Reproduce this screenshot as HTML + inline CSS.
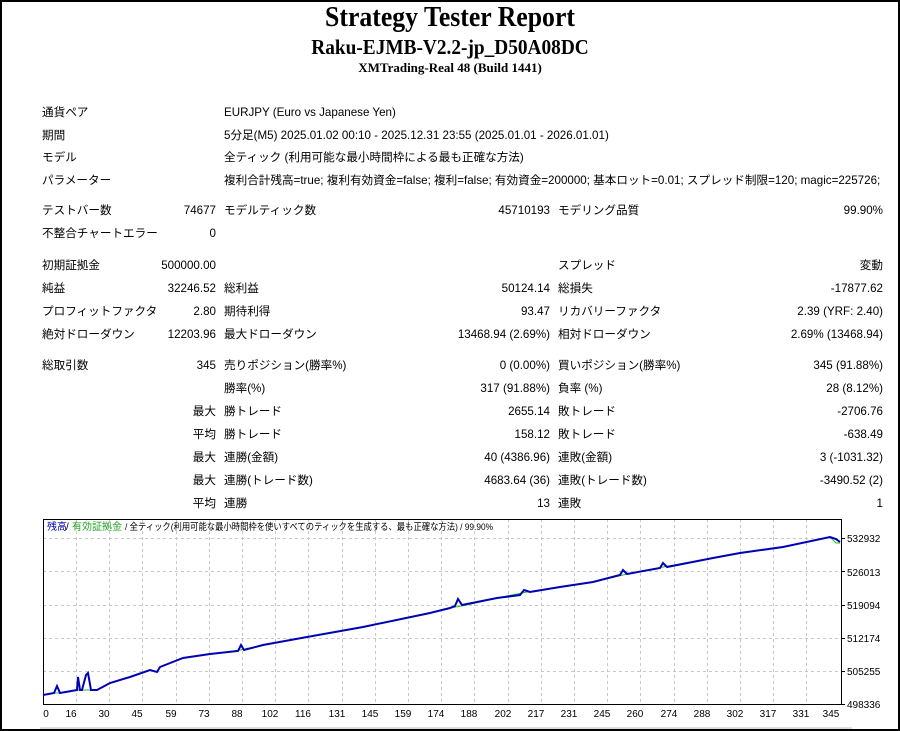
<!DOCTYPE html>
<html><head><meta charset="utf-8"><style>
html,body{margin:0;padding:0;background:#fff}
body{width:900px;height:731px;position:relative;overflow:hidden}
.frame{position:absolute;left:0;top:0;width:896px;height:727px;border:2px solid #000}
.t{position:absolute;font-family:"Liberation Serif",serif;font-weight:bold;text-align:center;left:0;width:900px;white-space:nowrap;color:#000}
.s{position:absolute;font-family:"Liberation Sans","Noto Sans CJK JP",sans-serif;font-size:11.6px;line-height:14px;white-space:nowrap;color:#000}
.r{text-align:right}
</style></head><body>
<div class="frame"></div>
<div class="t" style="top:2px;font-size:28px;line-height:32px;transform:scaleX(0.92)">Strategy Tester Report</div>
<div class="t" style="top:34px;font-size:21px;line-height:26px;transform:scaleX(0.92)">Raku-EJMB-V2.2-jp_D50A08DC</div>
<div class="t" style="top:60px;font-size:13px;line-height:16px">XMTrading-Real 48 (Build 1441)</div>

<div class="s" style="left:42px;top:106px">通貨ペア</div><div class="s" style="left:224px;top:106px">EURJPY (Euro vs Japanese Yen)</div>
<div class="s" style="left:42px;top:129px">期間</div><div class="s" style="left:224px;top:129px">5分足(M5) 2025.01.02 00:10 - 2025.12.31 23:55 (2025.01.01 - 2026.01.01)</div>
<div class="s" style="left:42px;top:151px">モデル</div><div class="s" style="left:224px;top:151px">全ティック (利用可能な最小時間枠による最も正確な方法)</div>
<div class="s" style="left:42px;top:174px">パラメーター</div><div class="s" style="left:224px;top:174px">複利合計残高=true; 複利有効資金=false; 複利=false; 有効資金=200000; 基本ロット=0.01; スプレッド制限=120; magic=225726;</div>

<div class="s" style="left:42px;top:204px">テストバー数</div><div class="s r" style="right:684px;top:204px">74677</div><div class="s" style="left:224px;top:204px">モデルティック数</div><div class="s r" style="right:350px;top:204px">45710193</div><div class="s" style="left:558px;top:204px">モデリング品質</div><div class="s r" style="right:17px;top:204px">99.90%</div>
<div class="s" style="left:42px;top:227px">不整合チャートエラー</div><div class="s r" style="right:684px;top:227px">0</div>

<div class="s" style="left:42px;top:259px">初期証拠金</div><div class="s r" style="right:684px;top:259px">500000.00</div><div class="s" style="left:558px;top:259px">スプレッド</div><div class="s r" style="right:17px;top:259px">変動</div>
<div class="s" style="left:42px;top:282px">純益</div><div class="s r" style="right:684px;top:282px">32246.52</div><div class="s" style="left:224px;top:282px">総利益</div><div class="s r" style="right:350px;top:282px">50124.14</div><div class="s" style="left:558px;top:282px">総損失</div><div class="s r" style="right:17px;top:282px">-17877.62</div>
<div class="s" style="left:42px;top:305px">プロフィットファクタ</div><div class="s r" style="right:684px;top:305px">2.80</div><div class="s" style="left:224px;top:305px">期待利得</div><div class="s r" style="right:350px;top:305px">93.47</div><div class="s" style="left:558px;top:305px">リカバリーファクタ</div><div class="s r" style="right:17px;top:305px">2.39 (YRF: 2.40)</div>
<div class="s" style="left:42px;top:328px">絶対ドローダウン</div><div class="s r" style="right:684px;top:328px">12203.96</div><div class="s" style="left:224px;top:328px">最大ドローダウン</div><div class="s r" style="right:350px;top:328px">13468.94 (2.69%)</div><div class="s" style="left:558px;top:328px">相対ドローダウン</div><div class="s r" style="right:17px;top:328px">2.69% (13468.94)</div>

<div class="s" style="left:42px;top:359px">総取引数</div><div class="s r" style="right:684px;top:359px">345</div><div class="s" style="left:224px;top:359px">売りポジション(勝率%)</div><div class="s r" style="right:350px;top:359px">0 (0.00%)</div><div class="s" style="left:558px;top:359px">買いポジション(勝率%)</div><div class="s r" style="right:17px;top:359px">345 (91.88%)</div>
<div class="s" style="left:224px;top:382px">勝率(%)</div><div class="s r" style="right:350px;top:382px">317 (91.88%)</div><div class="s" style="left:558px;top:382px">負率 (%)</div><div class="s r" style="right:17px;top:382px">28 (8.12%)</div>
<div class="s r" style="right:684px;top:405px">最大</div><div class="s" style="left:224px;top:405px">勝トレード</div><div class="s r" style="right:350px;top:405px">2655.14</div><div class="s" style="left:558px;top:405px">敗トレード</div><div class="s r" style="right:17px;top:405px">-2706.76</div>
<div class="s r" style="right:684px;top:428px">平均</div><div class="s" style="left:224px;top:428px">勝トレード</div><div class="s r" style="right:350px;top:428px">158.12</div><div class="s" style="left:558px;top:428px">敗トレード</div><div class="s r" style="right:17px;top:428px">-638.49</div>
<div class="s r" style="right:684px;top:451px">最大</div><div class="s" style="left:224px;top:451px">連勝(金額)</div><div class="s r" style="right:350px;top:451px">40 (4386.96)</div><div class="s" style="left:558px;top:451px">連敗(金額)</div><div class="s r" style="right:17px;top:451px">3 (-1031.32)</div>
<div class="s r" style="right:684px;top:474px">最大</div><div class="s" style="left:224px;top:474px">連勝(トレード数)</div><div class="s r" style="right:350px;top:474px">4683.64 (36)</div><div class="s" style="left:558px;top:474px">連敗(トレード数)</div><div class="s r" style="right:17px;top:474px">-3490.52 (2)</div>
<div class="s r" style="right:684px;top:497px">平均</div><div class="s" style="left:224px;top:497px">連勝</div><div class="s r" style="right:350px;top:497px">13</div><div class="s" style="left:558px;top:497px">連敗</div><div class="s r" style="right:17px;top:497px">1</div>

<svg style="position:absolute;left:0;top:0" width="900" height="731" font-family="Liberation Sans, Noto Sans CJK JP, sans-serif">
<g stroke="#c8c8c8" stroke-dasharray="3,3" stroke-width="1">
<line x1="43" y1="538.5" x2="841" y2="538.5"/><line x1="43" y1="571.5" x2="841" y2="571.5"/><line x1="43" y1="605.5" x2="841" y2="605.5"/><line x1="43" y1="638.5" x2="841" y2="638.5"/><line x1="43" y1="671.5" x2="841" y2="671.5"/>
<path d="M76.5 519V704M109.5 519V704M142.5 519V704M176.5 519V704M209.5 519V704M242.5 519V704M275.5 519V704M308.5 519V704M342.5 519V704M375.5 519V704M408.5 519V704M441.5 519V704M474.5 519V704M508.5 519V704M541.5 519V704M574.5 519V704M607.5 519V704M640.5 519V704M674.5 519V704M707.5 519V704M740.5 519V704M773.5 519V704M806.5 519V704"/>
</g>
<rect x="43.5" y="519.5" width="798" height="185" fill="none" stroke="#000" stroke-width="1"/>
<g stroke="#000"><path d="M841 538.5h4M841 571.5h4M841 605.5h4M841 638.5h4M841 671.5h4M841 704.5h4"/></g>
<polyline fill="none" stroke="#22c022" stroke-width="1" points="43,695 54,693 60,693 77,690 82,690 93,690 97,690 110,683 130,677 150,670 157,672 160,667 183,658 210,654 240,650 263,645 307,637 363,627 430,613 450,608 467,605 497,598 527,592 560,587 593,582 623,575 663,567 713,558 740,553 783,547 830,537 836,543 840,543"/>
<polyline fill="none" stroke="#0000b4" stroke-width="2" points="43,695 54,693 57,686 60,693 77,690 78,677 80,690 82,690 86,675 88,673 91,690 97,690 110,683 130,677 150,670 157,672 160,667 183,658 210,654 238,651 241,645 244,650 263,645 307,637 363,627 430,613 450,608 455,606 458,599 462,605 467,604 497,598 520,595 524,590 527,591 530,592 560,587 593,582 620,575 623,570 627,574 660,568 663,563 667,567 713,558 740,553 783,547 830,537 836,539 840,542"/>
<text x="47" y="530" font-size="10" fill="#0000b4">残高</text>
<text x="66" y="530" font-size="10" fill="#000">/</text>
<text x="72" y="530" font-size="10" fill="#22a022" textLength="50">有効証拠金</text>
<text x="125" y="530" font-size="9.5" fill="#000" textLength="368" lengthAdjust="spacingAndGlyphs">/ 全ティック(利用可能な最小時間枠を使いすべてのティックを生成する、最も正確な方法) / 99.90%</text>
<g font-size="10" fill="#000">
<text x="847" y="542">532932</text><text x="847" y="576">526013</text><text x="847" y="609">519094</text><text x="847" y="642">512174</text><text x="847" y="675">505255</text><text x="847" y="708">498336</text>
</g>
<g font-size="10" fill="#000" text-anchor="middle">
<text x="46" y="717">0</text><text x="71" y="717">16</text><text x="104" y="717">30</text><text x="137" y="717">45</text><text x="171" y="717">59</text><text x="204" y="717">73</text><text x="237" y="717">88</text><text x="270" y="717">102</text><text x="303" y="717">116</text><text x="337" y="717">131</text><text x="370" y="717">145</text><text x="403" y="717">159</text><text x="436" y="717">174</text><text x="469" y="717">188</text><text x="503" y="717">202</text><text x="536" y="717">217</text><text x="569" y="717">231</text><text x="602" y="717">245</text><text x="635" y="717">260</text><text x="669" y="717">274</text><text x="702" y="717">288</text><text x="735" y="717">302</text><text x="768" y="717">317</text><text x="801" y="717">331</text><text x="831" y="717">345</text>
</g>
<rect x="40" y="727" width="812" height="2" fill="#ddd"/>
</svg>
</body></html>
